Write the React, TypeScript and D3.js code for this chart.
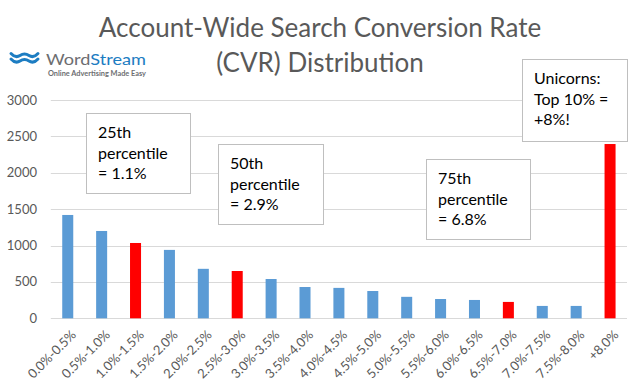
import * as d3 from "d3"
import { useRef, useEffect } from "react"

const categories = [
  "0.0%-0.5%", "0.5%-1.0%", "1.0%-1.5%", "1.5%-2.0%", "2.0%-2.5%", "2.5%-3.0%",
  "3.0%-3.5%", "3.5%-4.0%", "4.0%-4.5%", "4.5%-5.0%", "5.0%-5.5%", "5.5%-6.0%",
  "6.0%-6.5%", "6.5%-7.0%", "7.0%-7.5%", "7.5%-8.0%", "+8.0%",
]
const counts = [1420, 1200, 1035, 940, 680, 650, 540, 430, 418, 375, 295, 265, 252, 225, 170, 170, 2395]
// bars marking a percentile get the red fill
const highlighted = ["1.0%-1.5%", "2.5%-3.0%", "6.5%-7.0%", "+8.0%"]
const yTicks = [0, 500, 1000, 1500, 2000, 2500, 3000]
const titleLines = ["Account-Wide Search Conversion Rate", "(CVR) Distribution"]

const notes = [
  { lines: ["25th", "percentile", "= 1.1%"], x: 86, y: 113, w: 104, h: 80 },
  { lines: ["50th", "percentile", "= 2.9%"], x: 218, y: 144, w: 105, h: 80 },
  { lines: ["75th", "percentile", "= 6.8%"], x: 426, y: 159, w: 104, h: 80 },
  { lines: ["Unicorns:", "Top 10% =", "+8%!"], x: 522, y: 59, w: 105, h: 82 },
]

const W = 643
const H = 392
const FONT = "Lato, 'Open Sans', sans-serif"

export default function App() {
  const svgRef = useRef<SVGSVGElement>(null)

  useEffect(() => {
    if (!svgRef.current) return
    const svg = d3.select(svgRef.current)
    svg.selectAll("*").remove()

    const plot = { left: 50.8, right: 627, top: 100, bottom: 318.3 }

    const x = d3
      .scaleBand()
      .domain(categories)
      .range([plot.left, plot.right])
      .paddingInner(0.675)
      .paddingOuter(0.3375)

    const y = d3.scaleLinear().domain([0, 3000]).range([plot.bottom, plot.top])

    svg.append("rect").attr("width", W).attr("height", H).attr("fill", "#fff")

    // title
    svg
      .append("g")
      .selectAll("text")
      .data(titleLines)
      .enter()
      .append("text")
      .attr("x", 320)
      .attr("y", (_, i) => 37 + i * 35)
      .attr("text-anchor", "middle")
      .style("font-family", FONT)
      .style("font-size", "26px")
      .style("fill", "#595959")
      .text((d) => d)

    // logo
    const logo = svg.append("g")
    ;[55.5, 61].forEach((yy) => {
      logo
        .append("path")
        .attr("d", `M11,${yy - 2} Q15.5,${yy + 3} 20,${yy} T29,${yy} T38,${yy - 2}`)
        .attr("fill", "none")
        .attr("stroke", "#1d7dc2")
        .attr("stroke-width", 3)
        .attr("stroke-linecap", "round")
    })
    const word = logo
      .append("text")
      .attr("x", 46)
      .attr("y", 65)
      .attr("textLength", 100)
      .attr("lengthAdjust", "spacingAndGlyphs")
      .style("font-family", FONT)
      .style("font-size", "16px")
    word.append("tspan").style("fill", "#6d6e71").text("Word")
    word.append("tspan").style("fill", "#1d7dc2").text("Stream")
    logo
      .append("text")
      .attr("x", 48)
      .attr("y", 75.5)
      .attr("textLength", 98)
      .attr("lengthAdjust", "spacingAndGlyphs")
      .style("font-family", FONT)
      .style("font-size", "7.5px")
      .style("font-weight", "bold")
      .style("fill", "#6d6e71")
      .text("Online Advertising Made Easy")

    // gridlines
    svg
      .append("g")
      .selectAll("line")
      .data(yTicks)
      .enter()
      .append("line")
      .attr("x1", plot.left)
      .attr("x2", plot.right)
      .attr("y1", (d) => Math.round(y(d)) + 0.5)
      .attr("y2", (d) => Math.round(y(d)) + 0.5)
      .attr("stroke", "#d9d9d9")
      .attr("stroke-width", 1)

    // y labels
    svg
      .append("g")
      .selectAll("text")
      .data(yTicks)
      .enter()
      .append("text")
      .attr("x", 37)
      .attr("y", (d) => y(d))
      .attr("dy", "0.35em")
      .attr("text-anchor", "end")
      .style("font-family", FONT)
      .style("font-size", "13px")
      .style("fill", "#595959")
      .text((d) => d)

    // bars
    svg
      .append("g")
      .selectAll("rect")
      .data(categories)
      .enter()
      .append("rect")
      .attr("x", (d) => x(d) || 0)
      .attr("width", x.bandwidth())
      .attr("y", (_, i) => y(counts[i]))
      .attr("height", (_, i) => y(0) - y(counts[i]))
      .attr("fill", (d) => (highlighted.includes(d) ? "#ff0000" : "#5b9bd5"))

    // x labels
    svg
      .append("g")
      .selectAll("text")
      .data(categories)
      .enter()
      .append("text")
      .attr("transform", (d) => `translate(${(x(d) || 0) + x.bandwidth() / 2 + 6},${plot.bottom + 14}) rotate(-45)`)
      .attr("dy", "0.35em")
      .attr("text-anchor", "end")
      .style("font-family", FONT)
      .style("font-size", "13px")
      .style("fill", "#595959")
      .text((d) => d)

    // annotation boxes
    const boxes = svg.append("g").selectAll("g").data(notes).enter().append("g")
    boxes
      .append("rect")
      .attr("x", (d) => d.x + 0.5)
      .attr("y", (d) => d.y + 0.5)
      .attr("width", (d) => d.w)
      .attr("height", (d) => d.h)
      .attr("fill", "#fff")
      .attr("stroke", "#bfbfbf")
      .attr("stroke-width", 1)
    boxes
      .selectAll("text")
      .data((d) => d.lines.map((t, i) => ({ t, i, bx: d.x, by: d.y })))
      .enter()
      .append("text")
      .attr("x", (d) => d.bx + 12)
      .attr("y", (d) => d.by + 25 + d.i * 20.7)
      .style("font-family", FONT)
      .style("font-size", "16px")
      .style("fill", "#000")
      .text((d) => d.t)
  }, [])

  return (
    <div style={{ position: "absolute", left: 0, top: 0 }}>
      <svg ref={svgRef} width={W} height={H}></svg>
    </div>
  )
}
